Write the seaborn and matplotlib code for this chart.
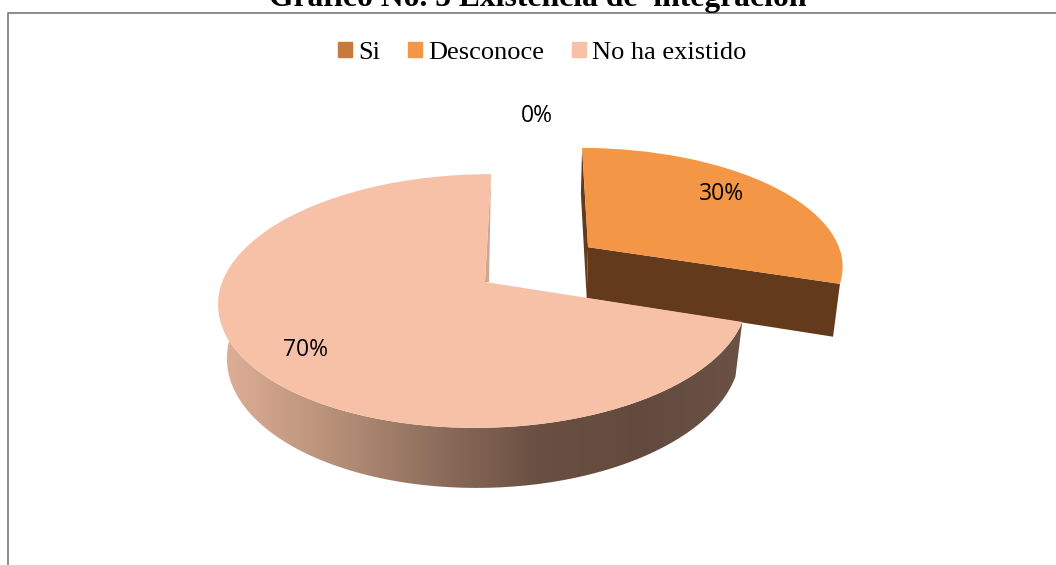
import numpy as np
import matplotlib
matplotlib.use('Agg')
import matplotlib.pyplot as plt
import seaborn as sns
from matplotlib.colors import LinearSegmentedColormap
from matplotlib.lines import Line2D
from matplotlib.patches import Patch, PathPatch, Polygon
from matplotlib.path import Path
from matplotlib.transforms import Transform

# Datos del grafico
categorias = ['Si', 'Desconoce', 'No ha existido']
valores = [0, 30, 70]
titulo = 'Gráfico No. 5 Existencia de  integración'

# Colores
colores = sns.color_palette(['#C87A3A', '#F39645', '#F6C1A6'])
color_lado_naranja = '#643A1C'
color_canto = '#CFA68F'
degradado = ['#DDAE95', '#B99179', '#8F6F5E', '#6A5042', '#624B3E', '#6B5246']

sns.set_theme(style='white')
plt.rcParams['font.family'] = ['Liberation Serif', 'DejaVu Sans']


# Perspectiva del disco: pasa del circulo unidad a pixeles de la imagen
class Perspectiva(Transform):
    input_dims = 2
    output_dims = 2

    def __init__(self, ox, sx, corte):
        super().__init__()
        self.ox, self.sx, self.corte = ox, sx, corte

    def transform_non_affine(self, values):
        v = np.asarray(values, dtype=float)
        w = 1 + 0.15 * v[:, 1] + 0.005 * v[:, 0]
        return np.column_stack([self.ox + (self.sx * v[:, 0] + self.corte * v[:, 1]) / w,
                                282 - 124 * v[:, 1] / w])


persp_grande = Perspectiva(485, 261.5, 7)
persp_naranja = Perspectiva(483.4, 264.3, 8.6)


# Base del pastel, un poco mas chica y abajo
def bajar(p, escala=0.97):
    return np.column_stack([483 + (p[:, 0] - 482) * escala,
                            p[:, 1] + 51 + 0.05 * (p[:, 1] - 247)])


def arco(w, t1, t2):
    t = np.radians(np.linspace(t1, t2, 200))
    return np.column_stack([w.center[0] + w.r * np.cos(t), w.center[1] + w.r * np.sin(t)])


fig = plt.figure(figsize=(10.56, 5.65), dpi=100)
ax = fig.add_axes([0, 0, 1, 1])

wedges, _ = ax.pie(valores, startangle=90, counterclock=False, colors=colores,
                   explode=[0, 0.5, 0], wedgeprops={'linewidth': 0})
ax.set_aspect('auto')
ax.axis('off')

si, desconoce, no_existe = wedges

# Porcion separada: caras laterales y cara superior
punta = persp_naranja.transform_non_affine(np.array([desconoce.center]))
for angulo in [desconoce.theta2, desconoce.theta1]:
    borde = persp_naranja.transform_non_affine(arco(desconoce, angulo, angulo)[:1])
    ax.add_patch(Polygon(np.vstack([punta, borde, bajar(borde, 0.978), bajar(punta, 0.978)]),
                         color=color_lado_naranja, lw=0, zorder=2))
desconoce.set_transform(persp_naranja + ax.transData)
desconoce.set_zorder(3)

# Porcion grande: lado con degradado, canto y cara superior
arriba = persp_grande.transform_non_affine(arco(no_existe, no_existe.theta1 + 90, no_existe.theta2))
lado = np.vstack([arriba, bajar(arriba)[::-1]])
cmap = LinearSegmentedColormap.from_list('lado', degradado)
img = ax.imshow(np.linspace(0, 1, 256)[None, :], cmap=cmap, aspect='auto',
                extent=(225, 745, 565, 0), zorder=4)
img.set_clip_path(PathPatch(Path(lado), transform=ax.transData))
ax.set_xlim(0, 1056)
ax.set_ylim(565, 0)

punta = persp_grande.transform_non_affine(np.array([no_existe.center]))
borde = persp_grande.transform_non_affine(arco(no_existe, no_existe.theta1, no_existe.theta1)[:1])
ax.add_patch(Polygon(np.vstack([borde, punta + [4, 0], punta]),
                     color=color_canto, lw=0, zorder=4.5))
no_existe.set_transform(persp_grande + ax.transData)
no_existe.set_zorder(5)
si.set_visible(False)

# Etiquetas de porcentaje
pos_etiquetas = [(537, 116), (721, 194), (306, 350)]
for v, (x, y) in zip(valores, pos_etiquetas):
    ax.text(x, y, f'{v}%', ha='center', va='center', fontsize=16.5, family='Open Sans',
            color='black', zorder=6)

# Leyenda
handles = [Patch(color=c) for c in colores]
ax.legend(handles, categorias, ncol=3, loc='center', bbox_to_anchor=(542 / 1056, 1 - 53 / 565),
          frameon=False, fontsize=19, handlelength=0.53, handleheight=0.53,
          handletextpad=0.23, columnspacing=1.06, borderpad=0, labelcolor='black')

# Titulo y marco del grafico
ax.add_line(Line2D([8, 8, 1056], [565, 13, 13], color='#8C8C8C', lw=1.4))
ax.text(538, 6, titulo, ha='center', va='baseline', fontsize=22.8, fontweight='bold',
        color='black', zorder=7)

plt.savefig('out.png', dpi=100)
